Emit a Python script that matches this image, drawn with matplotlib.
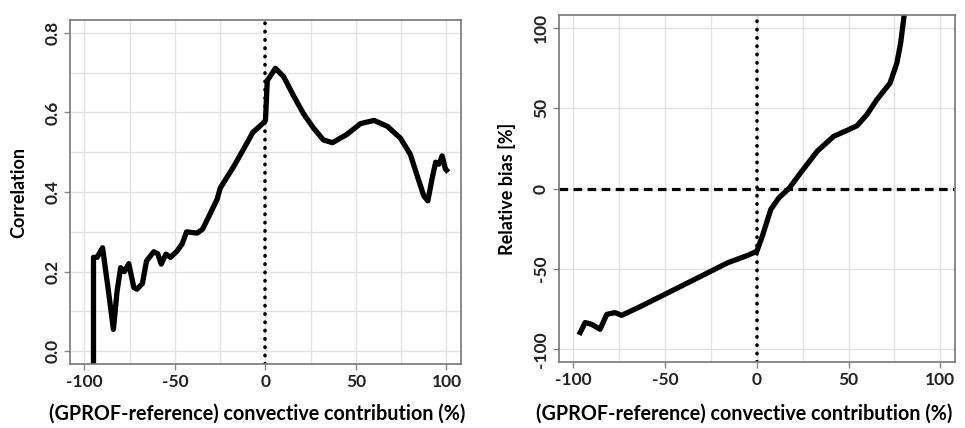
import matplotlib
matplotlib.use("Agg")
import matplotlib.pyplot as plt
import numpy as np

plt.rcParams['font.family'] = ['Lato', 'DejaVu Sans']
plt.rcParams['axes.unicode_minus'] = False

# left panel: correlation vs convective contribution difference
corr_x = [-95, -95, -93, -90, -87, -84, -82, -80, -78, -75.5, -72.7, -71, -68, -65.7,
          -61.7, -59.5, -57.6, -55, -52.5, -48.8, -46, -43.6, -37.7, -34.7, -32, -26.7,
          -25, -17.3, -10, -7, -1.8, 0, 1, 5.5, 10, 15.5, 21, 26.5, 32, 37, 45, 52.5,
          60, 67.4, 74.6, 80, 83.8, 87.5, 89.7, 92, 94, 95.8, 97.6, 99.4, 100]
corr_y = [-0.15, 0.236, 0.236, 0.26, 0.16, 0.055, 0.15, 0.21, 0.20, 0.22, 0.16, 0.156,
          0.17, 0.227, 0.25, 0.245, 0.219, 0.244, 0.236, 0.252, 0.27, 0.30, 0.297, 0.307,
          0.332, 0.382, 0.41, 0.466, 0.525, 0.55, 0.571, 0.58, 0.68, 0.711, 0.69, 0.642,
          0.597, 0.561, 0.531, 0.524, 0.545, 0.572, 0.58, 0.565, 0.535, 0.495, 0.441,
          0.39, 0.378, 0.433, 0.475, 0.47, 0.491, 0.458, 0.455]

# right panel: relative bias vs convective contribution difference
bias_x = [-96.3, -93.6, -90, -85.5, -81.8, -77.3, -73.7, -64.7, -53.8, -41.2, -26.7,
          -15.9, -5, 0, 3, 7.6, 12, 17.5, 23.8, 32.9, 41.9, 49.2, 54.6, 60, 65.4, 72.6,
          76.3, 78.4, 80.2, 81.5]
bias_y = [-89.6, -83.4, -84.5, -87.6, -78.3, -77.2, -78.9, -74.1, -67.9, -60.7, -52.4,
          -46.2, -41.6, -39, -29.6, -13, -5.8, 0, 9.7, 23.2, 32.5, 36.2, 39.1, 46, 55.3,
          65.6, 78, 90.5, 107, 125]

x_ticks = [-100, -50, 0, 50, 100]
corr_ticks = [0.0, 0.2, 0.4, 0.6, 0.8]
bias_ticks = [-100, -50, 0, 50, 100]
xlabel = "(GPROF-reference) convective contribution (%)"

fig = plt.figure(figsize=(9.65, 4.28), dpi=100)
ax1 = fig.add_axes([0.0725, 0.1495, 0.4052, 0.8035])
ax2 = fig.add_axes([0.579, 0.154, 0.4106, 0.811])

gridc = '#e2e2e2'
dots = (0, (0.1, 2.2))


def style(ax, label_x, label_y):
    for s in ax.spines.values():
        s.set_color('#777777')
        s.set_linewidth(1.2)
    ax.tick_params(axis='both', direction='out', length=4, width=1, color='#888888',
                   labelsize=12.5, labelcolor='#222222', pad=3)
    for lab in ax.get_xticklabels() + ax.get_yticklabels():
        lab.set_fontweight('bold')
    ax.set_xlabel(xlabel, fontsize=14.2, fontweight='bold')
    ax.xaxis.set_label_coords(label_x, label_y)


# left
for gx in np.arange(-100, 101, 25):
    ax1.axvline(gx, color=gridc, lw=1, zorder=0)
for gy in np.arange(0, 0.81, 0.1):
    ax1.axhline(gy, color=gridc, lw=1, zorder=0)
ax1.axvline(0, color='black', lw=2.6, linestyle=dots, dash_capstyle='round', zorder=1)
ax1.plot(corr_x, corr_y, color='black', lw=3.8, solid_joinstyle='round', zorder=2)
ax1.set_xlim(-108, 108)
ax1.set_ylim(-0.032, 0.832)
ax1.set_xticks(x_ticks)
ax1.set_yticks(corr_ticks)
ax1.set_yticklabels([f"{v:.1f}" for v in corr_ticks], rotation=90, va='center')
ax1.set_ylabel("Correlation", fontsize=13, fontweight='bold', labelpad=12)
style(ax1, 0.48, -0.116)

# right
for gx in np.arange(-100, 101, 25):
    ax2.axvline(gx, color=gridc, lw=1, zorder=0)
for gy in np.arange(-100, 101, 50):
    ax2.axhline(gy, color=gridc, lw=1, zorder=0)
ax2.axvline(0, color='black', lw=2.6, linestyle=dots, dash_capstyle='round', zorder=1)
ax2.axhline(0, color='black', lw=2.3, linestyle=(0, (2.7, 1.7)), zorder=1)
ax2.plot(bias_x, bias_y, color='black', lw=3.8, solid_joinstyle='round', zorder=2)
ax2.set_xlim(-108, 108)
ax2.set_ylim(-108, 108)
ax2.set_xticks(x_ticks)
ax2.set_yticks(bias_ticks)
ax2.set_yticklabels([str(v) for v in bias_ticks], rotation=90, va='center')
ax2.set_ylabel("Relative bias [%]", fontsize=13, fontweight='bold', labelpad=12)
style(ax2, 0.467, -0.121)

fig.savefig("out.png", dpi=100)
